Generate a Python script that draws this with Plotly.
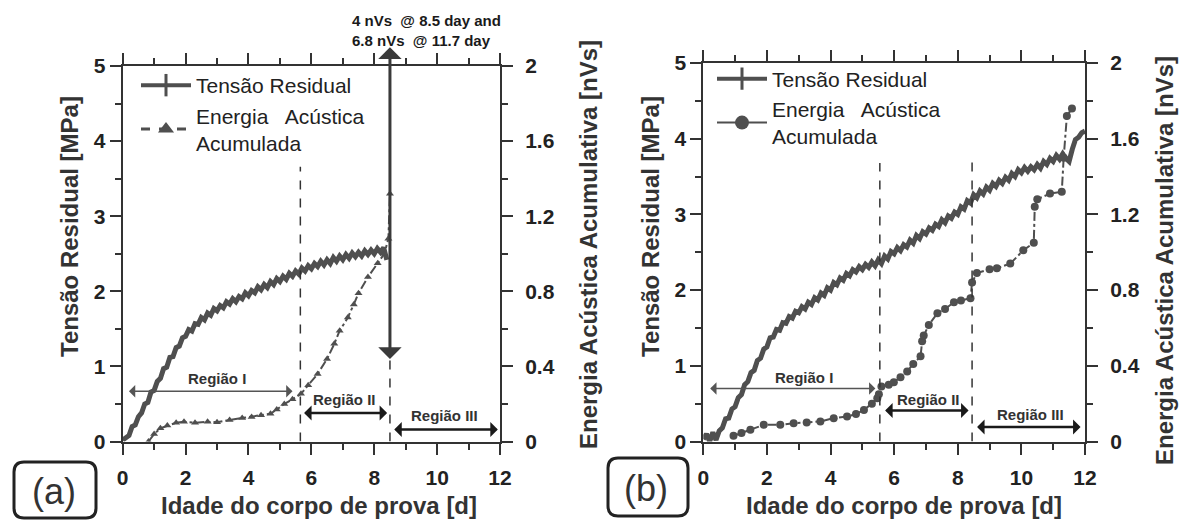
import plotly.graph_objects as go

W, H = 1179, 521

# ---------------- data ----------------
# Panel (a) - Tensão residual [MPa]
tens_a_x = [0.0, 0.1, 0.2, 0.3, 0.4, 0.5, 0.6, 0.7, 0.8, 0.9, 1.0, 1.1, 1.2, 1.3, 1.4, 1.5, 1.6, 1.7, 1.8, 1.9,
            2.0, 2.1, 2.2, 2.3, 2.4, 2.5, 2.6, 2.7, 2.8, 2.9, 3.0, 3.1, 3.2, 3.3, 3.4, 3.5, 3.6, 3.7, 3.8, 3.9,
            4.0, 4.1, 4.2, 4.3, 4.4, 4.5, 4.6, 4.7, 4.8, 4.9, 5.0, 5.1, 5.2, 5.3, 5.4, 5.5, 5.6, 5.7, 5.8, 5.9,
            6.0, 6.1, 6.2, 6.3, 6.4, 6.5, 6.6, 6.7, 6.8, 6.9, 7.0, 7.1, 7.2, 7.3, 7.4, 7.5, 7.6, 7.7, 7.8, 7.9,
            8.0, 8.1, 8.2, 8.3, 8.4]
tens_a_y = [0.02, 0.06, 0.08, 0.2, 0.22, 0.33, 0.38, 0.5, 0.52, 0.66, 0.68, 0.8, 0.84, 0.97, 0.99, 1.12, 1.13, 1.25, 1.27, 1.38,
            1.4, 1.49, 1.47, 1.57, 1.56, 1.65, 1.62, 1.71, 1.68, 1.77, 1.74, 1.81, 1.78, 1.86, 1.83, 1.9, 1.86, 1.93, 1.9, 1.98,
            1.94, 2.01, 1.98, 2.06, 2.02, 2.09, 2.05, 2.13, 2.09, 2.17, 2.13, 2.2, 2.16, 2.24, 2.2, 2.27, 2.23, 2.31, 2.27, 2.34,
            2.3, 2.37, 2.33, 2.4, 2.35, 2.42, 2.37, 2.45, 2.4, 2.47, 2.42, 2.49, 2.44, 2.51, 2.46, 2.52, 2.47, 2.54, 2.49, 2.55,
            2.5, 2.57, 2.52, 2.58, 2.42]

# Panel (a) - Energia acústica acumulada [nVs]
energ_a_x = [0.82, 1.0, 1.2, 1.42, 1.7, 1.95, 2.3, 2.7, 3.0, 3.4, 3.8, 4.1, 4.4, 4.7, 4.9, 5.14, 5.4, 5.67,
             5.9, 6.2, 6.5, 6.73, 6.9, 7.16, 7.35, 7.5, 7.8, 8.11, 8.32, 8.45, 8.5]
energ_a_y = [0.0, 0.04, 0.07, 0.085, 0.1, 0.105, 0.1, 0.105, 0.103, 0.115, 0.125, 0.13, 0.14, 0.148, 0.17, 0.2, 0.225, 0.254,
             0.3, 0.36, 0.44, 0.52, 0.59, 0.66, 0.73, 0.79, 0.876, 0.95, 1.0, 1.08, 1.32]

# Panel (b) - Tensão residual [MPa]
tens_b_x = [0.0, 0.1, 0.2, 0.3, 0.4, 0.5, 0.6, 0.7, 0.8, 0.9, 1.0, 1.1, 1.2, 1.3, 1.4, 1.5, 1.6, 1.7, 1.8, 1.9,
            2.0, 2.1, 2.2, 2.3, 2.4, 2.5, 2.6, 2.7, 2.8, 2.9, 3.0, 3.1, 3.2, 3.3, 3.4, 3.5, 3.6, 3.7, 3.8, 3.9,
            4.0, 4.1, 4.2, 4.3, 4.4, 4.5, 4.6, 4.7, 4.8, 4.9, 5.0, 5.1, 5.2, 5.3, 5.4, 5.5, 5.6, 5.7, 5.8, 5.9,
            6.0, 6.1, 6.2, 6.3, 6.4, 6.5, 6.6, 6.7, 6.8, 6.9, 7.0, 7.1, 7.2, 7.3, 7.4, 7.5, 7.6, 7.7, 7.8, 7.9,
            8.0, 8.1, 8.2, 8.3, 8.4, 8.5, 8.6, 8.7, 8.8, 8.9, 9.0, 9.1, 9.2, 9.3, 9.4, 9.5, 9.6, 9.7, 9.8, 9.9,
            10.0, 10.1, 10.2, 10.3, 10.4, 10.5, 10.6, 10.7, 10.8, 10.9, 11.0, 11.1, 11.2, 11.3, 11.4, 11.5, 11.6,
            11.7, 11.8, 11.9, 12.0]
tens_b_y = [0.03, 0.1, 0.0, 0.12, 0.02, 0.14, 0.18, 0.3, 0.31, 0.43, 0.46, 0.58, 0.62, 0.75, 0.79, 0.91, 0.94, 1.07, 1.1, 1.22,
            1.25, 1.37, 1.38, 1.48, 1.47, 1.57, 1.56, 1.65, 1.63, 1.72, 1.7, 1.78, 1.75, 1.84, 1.81, 1.9, 1.87, 1.96, 1.93, 2.03,
            2.0, 2.1, 2.07, 2.16, 2.13, 2.22, 2.19, 2.27, 2.24, 2.31, 2.27, 2.34, 2.3, 2.37, 2.32, 2.4, 2.35, 2.45, 2.41, 2.51,
            2.48, 2.56, 2.52, 2.6, 2.57, 2.66, 2.62, 2.72, 2.68, 2.77, 2.74, 2.82, 2.79, 2.87, 2.84, 2.93, 2.89, 2.98, 2.95, 3.03,
            3.0, 3.1, 3.07, 3.18, 3.15, 3.26, 3.22, 3.31, 3.27, 3.36, 3.32, 3.41, 3.37, 3.45, 3.41, 3.49, 3.45, 3.54, 3.5, 3.59,
            3.55, 3.62, 3.57, 3.63, 3.59, 3.66, 3.61, 3.7, 3.66, 3.74, 3.7, 3.78, 3.73, 3.8, 3.74, 3.7, 3.86,
            3.99, 4.02, 4.08, 4.1]

# Panel (b) - Energia acústica acumulada [nVs]
energ_b_x = [0.95, 1.2, 1.48, 1.9, 2.42, 2.84, 3.25, 3.68, 4.1, 4.52, 4.8, 5.05, 5.3, 5.47, 5.52, 5.6, 5.83, 5.99,
             6.2, 6.41, 6.6, 6.83, 6.88, 6.93, 7.09, 7.36, 7.6, 7.88, 8.1, 8.4, 8.45, 8.6, 9.0, 9.23, 9.65,
             10.06, 10.39, 10.42, 10.5, 10.9, 11.27, 11.33, 11.43, 11.59]
energ_b_y = [0.03, 0.045, 0.062, 0.088, 0.088, 0.097, 0.1, 0.106, 0.123, 0.132, 0.145, 0.167, 0.2, 0.229, 0.25, 0.29, 0.3, 0.313,
             0.34, 0.37, 0.41, 0.45, 0.53, 0.56, 0.616, 0.678, 0.7, 0.736, 0.745, 0.757, 0.84, 0.89, 0.91, 0.916, 0.94,
             1.01, 1.05, 1.24, 1.28, 1.31, 1.32, 1.5, 1.72, 1.76]

# Region boundaries (days) and dashed-line heights (MPa)
bounds_a = [5.65, 8.5]
bounds_a_top = [3.66, 1.1]
bounds_b = [5.55, 8.45]
bounds_b_top = [3.68, 3.74]

# Region arrows: (start, end, height MPa, label x, label y, label)
regions_a = [(0.15, 5.4, 0.67, 3.0, 0.84, "Região I"),
             (5.72, 8.41, 0.38, 7.05, 0.56, "Região II"),
             (8.59, 11.93, 0.16, 10.23, 0.34, "Região III")]
regions_b = [(0.17, 5.41, 0.70, 3.16, 0.84, "Região I"),
             (5.67, 8.34, 0.41, 7.09, 0.56, "Região II"),
             (8.56, 11.86, 0.19, 10.28, 0.36, "Região III")]

x_ticks = [0, 2, 4, 6, 8, 10, 12]
y_ticks = [0, 1, 2, 3, 4, 5]
y2_ticks = [0, 0.4, 0.8, 1.2, 1.6, 2]
y2_labels = ["0", "0.4", "0.8", "1.2", "1.6", "2"]

# ---------------- style ----------------
FONT = "Liberation Sans, Arial, sans-serif"
CURVE = "#4f4f4f"
AX = "#333333"

def px(x):
    return x / W

def py(y):
    return 1 - y / H

fig = go.Figure()

# Panel (a) traces
fig.add_trace(go.Scatter(x=tens_a_x, y=tens_a_y, xaxis="x", yaxis="y", mode="lines",
                         line=dict(color=CURVE, width=5), showlegend=False))
fig.add_trace(go.Scatter(x=energ_a_x, y=energ_a_y, xaxis="x", yaxis="y2", mode="lines+markers",
                         line=dict(color=CURVE, width=2, dash="dashdot"),
                         marker=dict(symbol="triangle-up", size=7, color=CURVE), showlegend=False))
# Panel (b) traces
fig.add_trace(go.Scatter(x=tens_b_x, y=tens_b_y, xaxis="x2", yaxis="y3", mode="lines",
                         line=dict(color=CURVE, width=5), showlegend=False))
fig.add_trace(go.Scatter(x=energ_b_x, y=energ_b_y, xaxis="x2", yaxis="y4", mode="lines+markers",
                         line=dict(color=CURVE, width=2, dash="dashdot"),
                         marker=dict(symbol="circle", size=8, color=CURVE), showlegend=False))

# Legend entries
fig.add_trace(go.Scatter(x=[None], y=[None], xaxis="x", yaxis="y", mode="lines+markers",
                         name="Tensão Residual", legend="legend",
                         line=dict(color=CURVE, width=4),
                         marker=dict(symbol="line-ns", size=16, color=CURVE, line=dict(width=3, color=CURVE))))
fig.add_trace(go.Scatter(x=[None], y=[None], xaxis="x", yaxis="y2", mode="lines+markers",
                         name="Energia\u00a0\u00a0 Acústica<br>Acumulada", legend="legend",
                         line=dict(color=CURVE, width=3, dash="dash"),
                         marker=dict(symbol="triangle-up", size=14, color=CURVE)))
fig.add_trace(go.Scatter(x=[None], y=[None], xaxis="x2", yaxis="y3", mode="lines+markers",
                         name="Tensão Residual", legend="legend2",
                         line=dict(color=CURVE, width=4),
                         marker=dict(symbol="line-ns", size=16, color=CURVE, line=dict(width=3, color=CURVE))))
fig.add_trace(go.Scatter(x=[None], y=[None], xaxis="x2", yaxis="y4", mode="lines+markers",
                         name="Energia\u00a0\u00a0 Acústica<br>Acumulada", legend="legend2",
                         line=dict(color=CURVE, width=2),
                         marker=dict(symbol="circle", size=14, color=CURVE)))

tickfont = dict(family=FONT, size=21, color="#222222", weight="bold")


def xaxis_cfg(domain, anchor):
    return dict(domain=domain, anchor=anchor, range=[0, 12], tickvals=x_ticks,
                ticks="outside", ticklen=11, tickwidth=1.5, tickcolor=AX,
                showline=True, linecolor=AX, linewidth=2, mirror="ticks",
                minor=dict(dtick=1, ticks="outside", ticklen=6, tickwidth=1.5, tickcolor=AX),
                tickfont=tickfont, showgrid=False, zeroline=False, ticklabelstandoff=5,
                automargin=False)


def yaxis_cfg(domain, anchor):
    return dict(domain=domain, anchor=anchor, range=[0, 5], tickvals=y_ticks,
                ticks="outside", ticklen=11, tickwidth=1.5, tickcolor=AX,
                showline=True, linecolor=AX, linewidth=2,
                minor=dict(dtick=0.5, ticks="outside", ticklen=6, tickwidth=1.5, tickcolor=AX),
                tickfont=tickfont, showgrid=False, zeroline=False, ticklabelstandoff=0,
                automargin=False)


def y2axis_cfg(overlay, anchor):
    return dict(overlaying=overlay, anchor=anchor, side="right", range=[0, 2],
                tickvals=y2_ticks, ticktext=y2_labels,
                ticks="outside", ticklen=11, tickwidth=1.5, tickcolor=AX,
                showline=True, linecolor=AX, linewidth=2,
                minor=dict(dtick=0.2, ticks="outside", ticklen=6, tickwidth=1.5, tickcolor=AX),
                tickfont=tickfont, showgrid=False, zeroline=False, ticklabelstandoff=8,
                automargin=False)


dom_ax = [px(122.7), px(500)]
dom_ay = [py(441.5), py(66)]
dom_bx = [px(703.3), px(1085)]
dom_by = [py(441.5), py(63)]

shapes = []
annotations = []

# dashed region boundaries
for xv, top in zip(bounds_a, bounds_a_top):
    shapes.append(dict(type="line", xref="x", yref="y", x0=xv, x1=xv, y0=0, y1=top,
                       line=dict(color="#333", width=1.5, dash="dash")))
for xv, top in zip(bounds_b, bounds_b_top):
    shapes.append(dict(type="line", xref="x2", yref="y3", x0=xv, x1=xv, y0=0, y1=top,
                       line=dict(color="#333", width=1.5, dash="dash")))

# region arrows and labels
for regs, xr, yr in [(regions_a, "x", "y"), (regions_b, "x2", "y3")]:
    for i, (x0, x1, yy, lx, ly, lab) in enumerate(regs):
        col = "#555" if i == 0 else "#1a1a1a"
        wid = 1.5 if i == 0 else 2.5
        annotations.append(dict(x=x1, y=yy, ax=x0, ay=yy, xref=xr, yref=yr, axref=xr, ayref=yr,
                                text="", showarrow=True, arrowhead=1, arrowside="end+start",
                                arrowsize=1.4 if i == 0 else 1.0, arrowwidth=wid, arrowcolor=col))
        annotations.append(dict(x=lx, y=ly, xref=xr, yref=yr, text=lab, showarrow=False,
                                xanchor="center", yanchor="middle",
                                font=dict(family=FONT, size=15, color="#333", weight="bold")))

# big vertical double arrow in panel (a)
annotations.append(dict(x=8.5, y=1.1, ax=8.5, ay=5.27, xref="x", yref="y", axref="x", ayref="y",
                        text="", showarrow=True, arrowhead=1, arrowside="end+start",
                        arrowsize=1.3, arrowwidth=3, arrowcolor="#3a3a3a"))
annotations.append(dict(x=px(350), y=py(31), xref="paper", yref="paper", xanchor="left", yanchor="middle",
                        align="left", showarrow=False,
                        text="4 nVs\u00a0 @ 8.5 day and<br>6.8 nVs\u00a0 @ 11.7 day",
                        font=dict(family=FONT, size=15, color="#1a1a1a", weight="bold")))


def paper_text(xp, yp, text, font, angle=0):
    return dict(x=px(xp), y=py(yp), xref="paper", yref="paper", text=text, textangle=angle,
                xanchor="center", yanchor="middle", showarrow=False, font=font)


# axis titles and panel tags
title_font = dict(family=FONT, size=24, color="#333333", weight="bold")
tag_font = dict(family=FONT, size=36, color="#333")
annotations += [
    paper_text(69, 227, "Tensão Residual [MPa]", title_font, -90),
    paper_text(589, 245, "Energia Acústica Acumulativa [nVs]", title_font, -90),
    paper_text(650, 227, "Tensão Residual [MPa]", title_font, -90),
    paper_text(1164, 261, "Energia Acústica Acumulativa [nVs]", title_font, -90),
    paper_text(319, 505, "Idade do corpo de prova [d]", title_font),
    paper_text(904, 505, "Idade do corpo de prova [d]", title_font),
    paper_text(54, 491, "(a)", tag_font),
    paper_text(646, 488, "(b)", tag_font),
]


def rounded_box(x0, y0, x1, y1, r):
    X = lambda v: px(v)
    Y = lambda v: py(v)
    return (f"M {X(x0 + r)},{Y(y0)} L {X(x1 - r)},{Y(y0)} Q {X(x1)},{Y(y0)} {X(x1)},{Y(y0 + r)} "
            f"L {X(x1)},{Y(y1 - r)} Q {X(x1)},{Y(y1)} {X(x1 - r)},{Y(y1)} "
            f"L {X(x0 + r)},{Y(y1)} Q {X(x0)},{Y(y1)} {X(x0)},{Y(y1 - r)} "
            f"L {X(x0)},{Y(y0 + r)} Q {X(x0)},{Y(y0)} {X(x0 + r)},{Y(y0)} Z")


shapes.append(dict(type="path", xref="paper", yref="paper", path=rounded_box(14, 462, 96, 518, 10),
                   line=dict(color="#222", width=3)))
shapes.append(dict(type="path", xref="paper", yref="paper", path=rounded_box(608, 458, 688, 516, 10),
                   line=dict(color="#222", width=3)))

legend_font = dict(family=FONT, size=21, color="#222222")

fig.update_layout(
    width=W, height=H, margin=dict(l=0, r=0, t=0, b=0, pad=0, autoexpand=False),
    paper_bgcolor="white", plot_bgcolor="white",
    xaxis=xaxis_cfg(dom_ax, "y"),
    yaxis=yaxis_cfg(dom_ay, "x"),
    yaxis2=y2axis_cfg("y", "x"),
    xaxis2=xaxis_cfg(dom_bx, "y3"),
    yaxis3=yaxis_cfg(dom_by, "x2"),
    yaxis4=y2axis_cfg("y3", "x2"),
    legend=dict(x=px(136), y=py(65), xanchor="left", yanchor="top", bgcolor="rgba(0,0,0,0)",
                font=legend_font, itemwidth=50, tracegroupgap=0),
    legend2=dict(x=px(712), y=py(58.5), xanchor="left", yanchor="top", bgcolor="rgba(0,0,0,0)",
                 font=legend_font, itemwidth=50, tracegroupgap=0),
    shapes=shapes, annotations=annotations,
)

fig.write_html("out.html")
